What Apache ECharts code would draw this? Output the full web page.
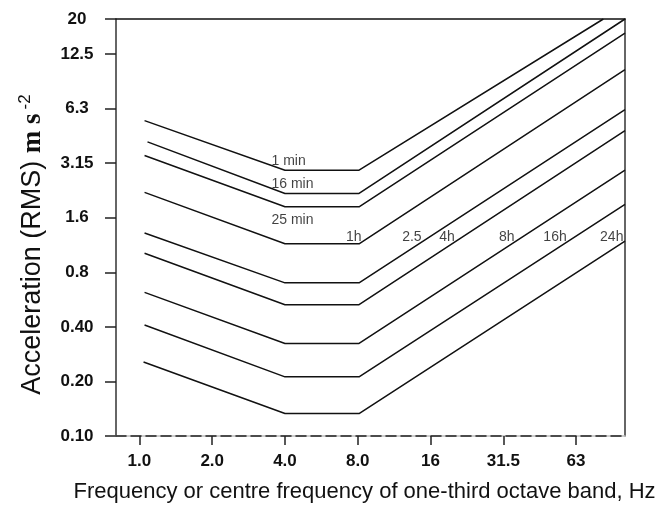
<!DOCTYPE html>
<html>
<head>
<meta charset="utf-8">
<script src="https://cdn.jsdelivr.net/npm/echarts@6/dist/echarts.min.js"></script>
<style>
html,body{margin:0;padding:0;background:#fff}
#chart{width:663px;height:508px}
</style>
</head>
<body>
<div id="chart"></div>
<script>
// exposure curves, one per duration
const durations = ['1 min', '16 min', '25 min', '1h', '2.5', '4h', '8h', '16h', '24h'];
const startFreq = [1.05, 1.08, 1.05, 1.05, 1.05, 1.05, 1.05, 1.05, 1.04];
const startAcc = [5.5, 4.2, 3.53, 2.21, 1.32, 1.02, 0.62, 0.41, 0.256];
const kneeFreq = [4.0, 8.1];
const plateauAcc = [2.93, 2.18, 1.84, 1.15, 0.70, 0.53, 0.324, 0.212, 0.133];
const endFreq = [83, 102, 102, 102, 102, 102, 102, 102, 102];
const endAcc = [20, 20, 16.7, 10.5, 6.32, 4.84, 2.93, 1.90, 1.19];

// ticks: octave positions and the nominal labels printed under them
const xTickValues = [1, 2, 4, 8, 16, 32, 64];
const xTicks = ['1.0', '2.0', '4.0', '8.0', '16', '31.5', '63'];
const yTickValues = [0.1, 0.2, 0.4, 0.8, 1.6, 3.2, 6.4, 12.8, 20];
const yTicks = ['0.10', '0.20', '0.40', '0.8', '1.6', '3.15', '6.3', '12.5', '20'];

const SANS = '"Liberation Sans", Arial, sans-serif';
const SERIF = '"Liberation Serif", "Times New Roman", serif';
const INK = '#111';

var chart = echarts.init(document.getElementById('chart'));

// freq at which the rising part of curve i reaches acceleration 'level'
function crossAt(i, level) {
	var a0 = Math.log(plateauAcc[i]), a1 = Math.log(endAcc[i]);
	var t = (Math.log(level) - a0) / (a1 - a0);
	var f0 = Math.log(kneeFreq[1]), f1 = Math.log(endFreq[i]);
	return Math.exp(f0 + t * (f1 - f0));
}

// nearest tick index for a value on a log axis
function nearest(vals, v) {
	var best = 0;
	vals.forEach(function (t, k) {
		if (Math.abs(Math.log(t / v)) < Math.abs(Math.log(vals[best] / v))) best = k;
	});
	return best;
}

var lineSeries = durations.map(function (d, i) {
	return {
		type: 'line',
		name: d,
		symbol: 'none',
		silent: true,
		lineStyle: { color: INK, width: 1.5 },
		data: [
			[startFreq[i], startAcc[i]],
			[kneeFreq[0], plateauAcc[i]],
			[kneeFreq[1], plateauAcc[i]],
			[endFreq[i], endAcc[i]]
		]
	};
});

// duration labels: minutes sit at the 4 Hz knee, hours where curves cross one level
var LABEL_LEVEL = 1.17;
var labelData = durations.map(function (d, i) {
	if (i < 3) {
		return {
			value: [kneeFreq[0], plateauAcc[i]],
			label: { formatter: d, align: 'left', offset: [-13, i == 2 ? 14 : -9] }
		};
	}
	return {
		value: [crossAt(i, LABEL_LEVEL), LABEL_LEVEL],
		label: { formatter: d, align: 'right', offset: [1, -5] }
	};
});

var tickFont = { fontSize: 17, fontWeight: 'bold', color: INK, fontFamily: SANS };

var option = {
	animation: false,
	backgroundColor: '#fff',
	grid: { left: 116, right: 38, top: 19, bottom: 70.5 },
	xAxis: [{
		type: 'log',
		logBase: 2,
		min: 0.8,
		max: 102,
		z: 3,
		axisLine: { show: true, onZero: false, lineStyle: { color: '#222', width: 1.5, type: [10, 5] } },
		axisTick: { show: true, length: 9, customValues: xTickValues, lineStyle: { color: '#222', width: 1.5 } },
		axisLabel: Object.assign({
			customValues: xTickValues,
			margin: 17,
			formatter: function (v) { return xTicks[nearest(xTickValues, v)]; }
		}, tickFont),
		splitLine: { show: false },
		name: 'Frequency or centre frequency of one-third octave band, Hz',
		nameLocation: 'middle',
		nameGap: 45,
		nameTextStyle: { fontSize: 22, color: INK, fontFamily: SANS, padding: [0, 12, 0, 0] }
	}, {
		type: 'log',
		logBase: 2,
		min: 0.8,
		max: 102,
		position: 'top',
		axisLine: { show: true, onZero: false, lineStyle: { color: INK, width: 1.5 } },
		axisTick: { show: false },
		axisLabel: { show: false },
		splitLine: { show: false }
	}, {
		// light line under the dashed bottom axis
		type: 'log',
		logBase: 2,
		min: 0.8,
		max: 102,
		position: 'bottom',
		z: 1,
		axisLine: { show: true, onZero: false, lineStyle: { color: '#bdbdbd', width: 1.5 } },
		axisTick: { show: false },
		axisLabel: { show: false },
		splitLine: { show: false }
	}],
	yAxis: [{
		type: 'log',
		logBase: 2,
		min: 0.1,
		max: 20,
		axisLine: { show: true, onZero: false, lineStyle: { color: '#333', width: 1.5 } },
		axisTick: { show: true, length: 11, customValues: yTickValues, lineStyle: { color: '#222', width: 1.5 } },
		axisLabel: Object.assign({
			customValues: yTickValues,
			margin: 39,
			align: 'center',
			formatter: function (v) { return yTicks[nearest(yTickValues, v)]; }
		}, tickFont),
		splitLine: { show: false },
		name: '{a|Acceleration (RMS) }{b|m s}{c|-2}',
		nameLocation: 'middle',
		nameRotate: 90,
		nameGap: 67,
		nameTextStyle: {
			padding: [0, 34, 0, 0],
			rich: {
				a: { fontSize: 27, fontFamily: SANS, color: INK, lineHeight: 32 },
				b: { fontSize: 27, fontFamily: SERIF, fontWeight: 'bold', color: INK, lineHeight: 32 },
				c: { fontSize: 17, fontFamily: SANS, color: INK, verticalAlign: 'top', padding: [0, 0, 0, 4] }
			}
		}
	}, {
		type: 'log',
		logBase: 2,
		min: 0.1,
		max: 20,
		position: 'right',
		axisLine: { show: true, onZero: false, lineStyle: { color: '#333', width: 1.5 } },
		axisTick: { show: false },
		axisLabel: { show: false },
		splitLine: { show: false }
	}],
	series: lineSeries.concat([{
		type: 'scatter',
		name: 'labels',
		silent: true,
		symbolSize: 1,
		itemStyle: { color: 'rgba(0,0,0,0)' },
		label: {
			show: true,
			position: [0, 0],
			verticalAlign: 'middle',
			fontSize: 14,
			color: INK,
			fontFamily: SANS
		},
		data: labelData
	}])
};

chart.setOption(option);
</script>
</body>
</html>
